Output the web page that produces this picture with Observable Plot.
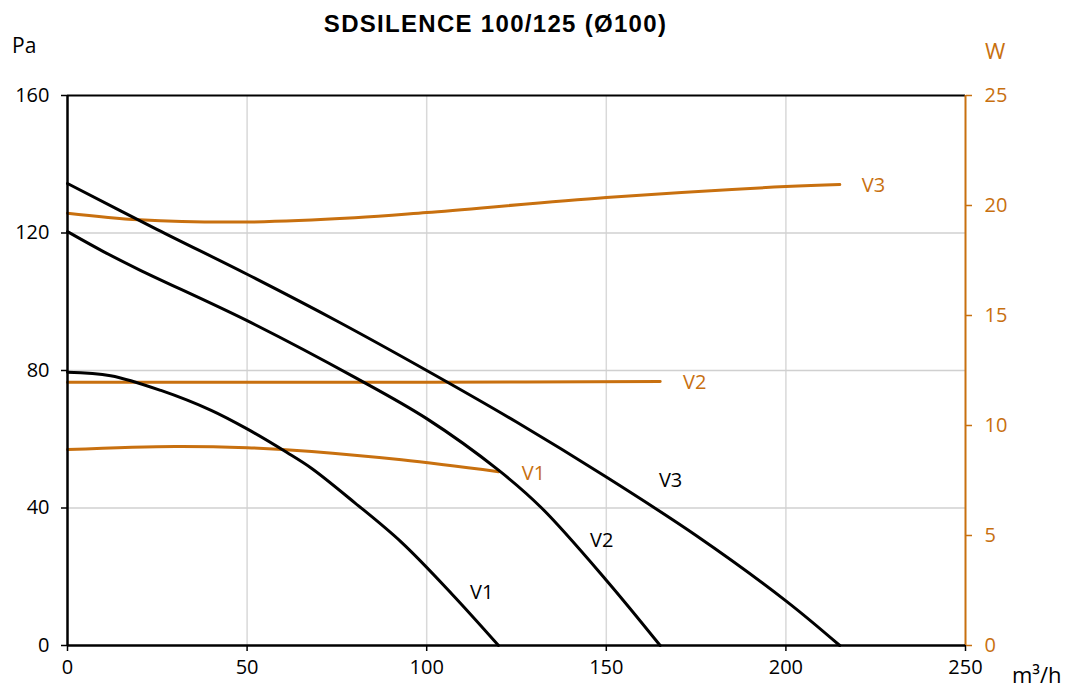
<!DOCTYPE html>
<html>
<head>
<meta charset="utf-8">
<script src="https://cdn.jsdelivr.net/npm/d3@7"></script>
<script src="https://cdn.jsdelivr.net/npm/@observablehq/plot@0.6"></script>
<style>
  html, body { margin: 0; padding: 0; background: #fff; }
  #wrap { position: relative; width: 1069px; height: 687px; font-family: "Open Sans", sans-serif; }
  .lbl { position: absolute; white-space: nowrap; line-height: 1; }
  #title { left: 0; width: 991px; text-align: center; top: 12px; font-family: "Liberation Sans", Arial, sans-serif; font-weight: bold; font-size: 24px; letter-spacing: 1.3px; color: #000; }
  #pa { left: 12px; top: 35px; font-size: 21px; color: #000; }
  #w { left: 985px; top: 39px; font-size: 22px; color: #C8700F; }
  #unit { left: 1012px; top: 663px; font-size: 22px; color: #000; }
  svg { position: absolute; left: 0; top: 0; }
</style>
</head>
<body>
<div id="wrap">
  <div id="chart"></div>
  <div class="lbl" id="title">SDSILENCE 100/125 (Ø100)</div>
  <div class="lbl" id="pa">Pa</div>
  <div class="lbl" id="w">W</div>
  <div class="lbl" id="unit">m³/h</div>
</div>
<script>
// ---- data ----
const xTicks = [0, 50, 100, 150, 200, 250];
const paTicks = [0, 40, 80, 120, 160];
const wTicks = [0, 5, 10, 15, 20, 25];

const flowV1 = [0, 12, 26, 40, 50, 61, 68, 80, 93, 107, 120];
const paV1   = [79.5, 78.5, 74.2, 68.4, 63, 56.2, 51.5, 41.5, 30, 15, 0];
const flowV2 = [0, 10, 20, 50, 80, 100, 120, 132, 150, 165];
const paV2   = [120.4, 114.6, 109.3, 94.5, 78, 66, 51, 40, 19, 0];
const flowV3 = [0, 25, 50, 75, 100, 125, 150, 175, 200, 215];
const paV3   = [134.4, 121, 108, 94.4, 80, 65, 49, 32, 13, 0];

const wFlowV1 = [0, 30, 50, 68, 93, 120];
const wV1     = [8.91, 9.05, 8.99, 8.82, 8.44, 7.9];
const wFlowV2 = [0, 50, 100, 165];
const wV2     = [11.97, 11.97, 11.97, 12.0];
const wFlowV3 = [0, 20, 50, 80, 100, 150, 200, 215];
const wV3     = [19.65, 19.35, 19.25, 19.44, 19.68, 20.36, 20.86, 20.95];

const seriesNames = ["V1", "V2", "V3"];
const paLabelFlow = [115.3, 148.7, 167.9];
const paLabelVal  = [15.4, 30.5, 48];
const wLabelFlow  = [129.7, 174.6, 224.4];
const wLabelVal   = [7.82, 11.95, 20.9];

// ---- build tables ----
const paMax = 160, wMax = 25, k = paMax / wMax; // map W onto the Pa scale
const toRows = (name, xs, ys, f = 1) => xs.map((x, i) => ({name, x, y: ys[i] * f}));
const paRows = [
  ...toRows("V1", flowV1, paV1),
  ...toRows("V2", flowV2, paV2),
  ...toRows("V3", flowV3, paV3)
];
const wRows = [
  ...toRows("V1", wFlowV1, wV1, k),
  ...toRows("V2", wFlowV2, wV2, k),
  ...toRows("V3", wFlowV3, wV3, k)
];
const paLabels = seriesNames.map((n, i) => ({name: n, x: paLabelFlow[i], y: paLabelVal[i]}));
const wLabels = seriesNames.map((n, i) => ({name: n, x: wLabelFlow[i], y: wLabelVal[i] * k}));

const orange = "#C8700F";
const font = "Open Sans, sans-serif";

const chart = Plot.plot({
  width: 1069,
  height: 687,
  marginLeft: 67,
  marginRight: 104,
  marginTop: 95,
  marginBottom: 42,
  style: {fontFamily: font, fontSize: "20px", background: "white", overflow: "visible"},
  x: {domain: [0, 250]},
  y: {domain: [0, 160]},
  marks: [
    Plot.gridX(xTicks.filter(d => d > 0 && d < 250), {stroke: "#d9d9d9", strokeOpacity: 1, strokeWidth: 1.5}),
    Plot.gridY(paTicks.filter(d => d > 0 && d < 160), {stroke: "#d0d0d0", strokeOpacity: 1, strokeWidth: 1.5}),
    Plot.axisX(xTicks, {tickSize: 6, tickPadding: 8, stroke: "#000", strokeWidth: 1.5, fill: "#000", fontSize: 20, label: null}),
    Plot.axisY(paTicks, {anchor: "left", tickSize: 6, tickPadding: 12, stroke: "#000", strokeWidth: 1.5, fill: "#000", fontSize: 20, label: null}),
    Plot.axisY(wTicks.map(d => d * k), {anchor: "right", tickSize: 6, tickPadding: 13, stroke: orange, strokeWidth: 1.5, fill: orange, fontSize: 20, tickFormat: d => String(Math.round(d / k)), label: null}),
    Plot.ruleY([160], {stroke: "#000", strokeWidth: 2}),
    Plot.ruleX([250], {stroke: orange, strokeWidth: 2}),
    Plot.line(wRows, {x: "x", y: "y", z: "name", stroke: orange, strokeWidth: 3, curve: "catmull-rom"}),
    Plot.line(paRows, {x: "x", y: "y", z: "name", stroke: "#000", strokeWidth: 3, curve: "catmull-rom"}),
    Plot.ruleY([0], {stroke: "#000", strokeWidth: 2.5}),
    Plot.ruleX([0], {stroke: "#000", strokeWidth: 2.5}),
    Plot.text(paLabels, {x: "x", y: "y", text: "name", fill: "#000", fontSize: 20}),
    Plot.text(wLabels, {x: "x", y: "y", text: "name", fill: orange, fontSize: 20})
  ]
});
document.getElementById("chart").appendChild(chart);
</script>
</body>
</html>
